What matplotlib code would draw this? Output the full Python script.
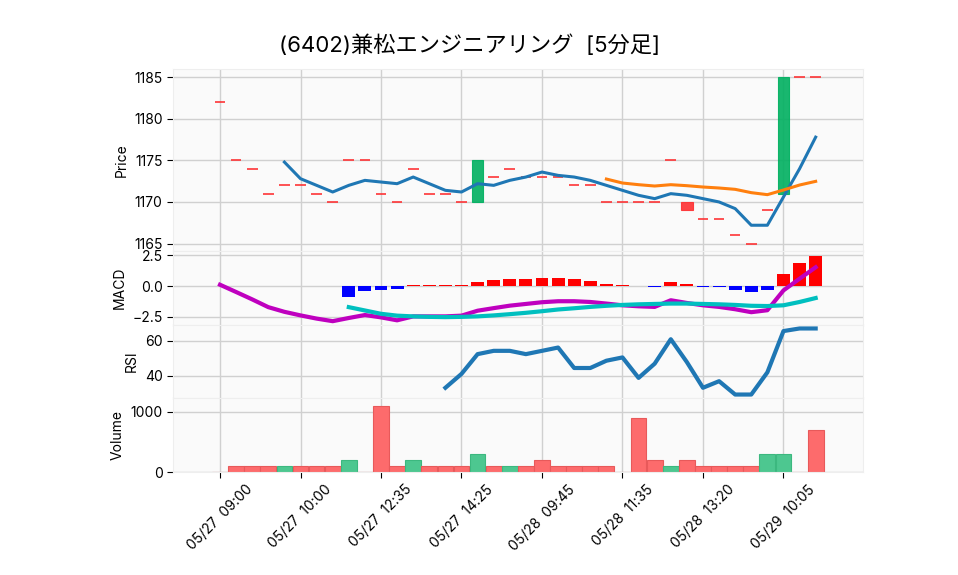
import numpy as np
import matplotlib
matplotlib.use('Agg')
import matplotlib.pyplot as plt

plt.rcParams['font.family'] = ['Inter', 'Noto Sans CJK JP', 'DejaVu Sans']
plt.rcParams['axes.unicode_minus'] = True

title = '(6402)兼松エンジニアリング  [5分足]'
tick_labels = ['05/27  09:00', '05/27  10:00', '05/27  12:35', '05/27  14:25',
               '05/28  09:45', '05/28  11:35', '05/28  13:20', '05/29  10:05']
tick_pos = [0, 5, 10, 15, 20, 25, 30, 35]

# 5分足 (38本)
opens = [1182, 1175, 1174, 1171, 1172, 1172, 1171, 1170, 1175, 1175,
         1171, 1170, 1174, 1171, 1171, 1170, 1170, 1173, 1174, 1173,
         1173, 1173, 1172, 1172, 1170, 1170, 1170, 1170, 1175, 1170,
         1168, 1168, 1166, 1165, 1169, 1171, 1185, 1185]
closes = [1182, 1175, 1174, 1171, 1172, 1172, 1171, 1170, 1175, 1175,
          1171, 1170, 1174, 1171, 1171, 1170, 1175, 1173, 1174, 1173,
          1173, 1173, 1172, 1172, 1170, 1170, 1170, 1170, 1175, 1169,
          1168, 1168, 1166, 1165, 1169, 1185, 1185, 1185]
volumes = [0, 100, 100, 100, 100, 100, 100, 100, 200, 0,
           1100, 100, 200, 100, 100, 100, 300, 100, 100, 100,
           200, 100, 100, 100, 100, 0, 900, 200, 100, 200,
           100, 100, 100, 100, 300, 300, 0, 700]

# 移動平均 (MA5 は idx4 から, MA25 は idx24 から)
ma5 = [1174.8, 1172.8, 1172.0, 1171.2, 1172.0, 1172.6, 1172.4, 1172.2, 1173.0,
       1172.2, 1171.4, 1171.2, 1172.2, 1172.0, 1172.6, 1173.0, 1173.6, 1173.2,
       1173.0, 1172.6, 1172.0, 1171.4, 1170.8, 1170.4, 1171.0, 1170.8, 1170.4,
       1170.0, 1169.2, 1167.2, 1167.2, 1170.6, 1174.0, 1177.8]
ma25 = [1172.76, 1172.28, 1172.08, 1171.92, 1172.08, 1171.96, 1171.8, 1171.68,
        1171.52, 1171.12, 1170.88, 1171.44, 1172.04, 1172.48]

# MACD
macd = [0.11, -0.48, -1.08, -1.71, -2.09, -2.38, -2.64, -2.85, -2.59, -2.35,
        -2.54, -2.78, -2.46, -2.46, -2.46, -2.40, -2.00, -1.79, -1.59, -1.45,
        -1.31, -1.23, -1.23, -1.29, -1.42, -1.56, -1.64, -1.69, -1.15, -1.37,
        -1.56, -1.69, -1.88, -2.12, -1.96, -0.35, 0.60, 1.53]
signal = [-1.71, -1.98, -2.25, -2.40, -2.46, -2.50, -2.52, -2.50, -2.46, -2.38,
          -2.28, -2.17, -2.04, -1.90, -1.80, -1.69, -1.60, -1.53, -1.48, -1.45,
          -1.42, -1.42, -1.45, -1.48, -1.53, -1.60, -1.62, -1.56, -1.29, -0.97]
hist = [-0.87, -0.40, -0.30, -0.21, 0.08, 0.08, 0.08, 0.08, 0.37, 0.48,
        0.61, 0.61, 0.62, 0.62, 0.54, 0.38, 0.14, 0.05, 0.0, -0.08,
        0.30, 0.16, -0.06, -0.10, -0.35, -0.51, -0.35, 1.02, 1.91, 2.48]

# RSI (idx14 から)
rsi = [33.0, 41.0, 52.4, 54.3, 54.3, 52.4, 54.3, 56.2, 44.4, 44.4,
       48.6, 50.5, 38.7, 46.9, 61.0, 47.8, 33.0, 36.8, 29.1, 29.1,
       41.9, 65.7, 67.2, 67.2]

n = len(closes)
x = np.arange(n)

up_c = '#00b060'
dn_c = '#fe3032'
vol_up = '#4dc790'
vol_dn = '#fd6b6c'

fig = plt.figure(figsize=(9.58, 5.75), dpi=100)
L, W = 173 / 958, 690 / 958
ax1 = fig.add_axes([L, 1 - 251 / 575, W, 182 / 575])
ax2 = fig.add_axes([L, 1 - 325 / 575, W, 74 / 575], sharex=ax1)
ax3 = fig.add_axes([L, 1 - 398 / 575, W, 73 / 575], sharex=ax1)
ax4 = fig.add_axes([L, 1 - 472 / 575, W, 74 / 575], sharex=ax1)

for ax in (ax1, ax2, ax3, ax4):
    ax.set_facecolor('#fafafa')
    ax.grid(True, color='#d0d0d0', linewidth=1, linestyle='-')
    ax.set_axisbelow(True)
    for s in ax.spines.values():
        s.set_color('#eeeeee')
    ax.tick_params(axis='y', labelsize=10, length=4)

# ローソク足
for i in range(n):
    o, c = opens[i], closes[i]
    col = up_c if c > o else dn_c
    if c == o:
        ax1.hlines(c, i - 0.33, i + 0.33, color=col, linewidth=1.3, alpha=0.9)
    else:
        ax1.bar(i, abs(c - o), bottom=min(o, c), width=0.7, color=col,
                edgecolor=col, alpha=0.9, linewidth=0.8)
ax1.plot(x[4:], ma5, color='#1f77b4', linewidth=2.2)
ax1.plot(x[24:], ma25, color='#ff7f0e', linewidth=2.2)
ax1.set_ylim(1164.1, 1186.0)
ax1.set_yticks([1165, 1170, 1175, 1180, 1185])
ax1.set_ylabel('Price', fontsize=10)

# MACD
hcol = ['r' if h >= 0 else 'b' for h in hist]
ax2.bar(x[8:], hist, width=0.8, color=hcol)
ax2.plot(x, macd, color='#bf00bf', linewidth=3)
ax2.plot(x[8:], signal, color='#00bfbf', linewidth=3)
ax2.set_ylim(-3.16, 2.85)
ax2.set_yticks([-2.5, 0, 2.5])
ax2.set_ylabel('MACD', fontsize=10)

# RSI
ax3.plot(x[14:], rsi, color='#1f77b4', linewidth=3)
ax3.set_ylim(27.1, 69.2)
ax3.set_yticks([40, 60])
ax3.set_ylabel('RSI', fontsize=10)

# 出来高
vcol = [vol_dn] + [vol_up if closes[i] > closes[i - 1] else vol_dn for i in range(1, n)]
vedge = ['#e8595a' if c == vol_dn else '#3cb87f' for c in vcol]
ax4.bar(x, volumes, width=0.98, color=vcol, edgecolor=vedge, linewidth=0.8)
ax4.set_ylim(0, 1226)
ax4.set_yticks([0, 1000])
ax4.set_ylabel('Volume', fontsize=10)

ax4.set_xlim(-2.92, 39.94)
ax4.set_xticks(tick_pos)
ax4.set_xticklabels(tick_labels, rotation=45, ha='center', fontsize=10)
ax4.tick_params(axis='x', length=4)
for ax in (ax1, ax2, ax3):
    ax.tick_params(axis='x', bottom=False, labelbottom=False)

fig.suptitle(title, x=0.49, y=0.94, fontsize=16)

fig.savefig('out.png', dpi=100)
